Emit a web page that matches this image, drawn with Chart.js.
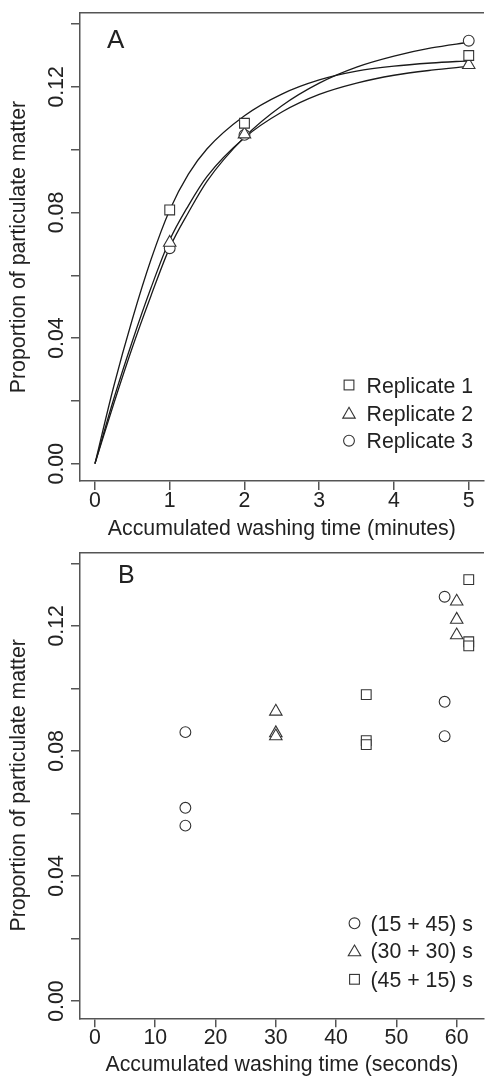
<!DOCTYPE html>
<html>
<head>
<meta charset="utf-8">
<script src="https://cdn.jsdelivr.net/npm/chart.js@4.4.1/dist/chart.umd.min.js"></script>
<style>
  html, body { margin: 0; padding: 0; background: #fff; }
  body { width: 488px; height: 1076px; overflow: hidden; position: relative; }
  canvas { position: absolute; left: 0; }
  #keys { position: absolute; left: 0; top: 0; pointer-events: none; }
</style>
</head>
<body>
<canvas id="chartA" width="492" height="544" style="top:0"></canvas>
<canvas id="chartB" width="492" height="536" style="top:544px"></canvas>
<svg id="keys" width="488" height="1076"></svg>
<script>
// Panel A: replicates, accumulated washing time in minutes
const minutes = [1, 2, 5];
const rep1 = [0.0808, 0.1084, 0.1300];
const rep2 = [0.0704, 0.1049, 0.1270];
const rep3 = [0.0686, 0.1047, 0.1347];

// fitted curves, values
const fitTimes = [0, 0.25, 0.5, 0.75, 1, 1.25, 1.5, 2, 2.5, 3, 3.5, 4, 4.5, 5];
const fit1 = [0, 0.0245, 0.0460, 0.0650, 0.0808, 0.0922, 0.1003, 0.1108, 0.1177, 0.1222, 0.1250, 0.1266, 0.1276, 0.1283];
const fit2 = [0, 0.0205, 0.0390, 0.0560, 0.0712, 0.0822, 0.0915, 0.1038, 0.1120, 0.1176, 0.1212, 0.1237, 0.1253, 0.1265];
const fit3 = [0, 0.0190, 0.0370, 0.0535, 0.0688, 0.0800, 0.0900, 0.1040, 0.1140, 0.1212, 0.1263, 0.1298, 0.1324, 0.1342];

// Panel B: split washes, accumulated washing time in seconds
const secs15 = [15, 15, 15, 58, 58, 58];
const split15 = [0.0860, 0.0618, 0.0561, 0.1293, 0.0957, 0.0847];
const secs30 = [30, 30, 30, 60, 60, 60];
const split30 = [0.0926, 0.0857, 0.0847, 0.1278, 0.1220, 0.1170];
const secs45 = [45, 45, 45, 62, 62, 62];
const split45 = [0.0980, 0.0833, 0.0820, 0.1348, 0.1149, 0.1136];

const yLabelled = [0, 0.04, 0.08, 0.12];
const keyA = ["Replicate 1", "Replicate 2", "Replicate 3"];
const keyB = ["(15 + 45) s", "(30 + 30) s", "(45 + 15) s"];

const INK = "#222";
const AXIS = "#555";
const FONT = '"Liberation Sans", Arial, Helvetica, sans-serif';
const SIZE = 21.3;

Chart.defaults.font.family = FONT;
Chart.defaults.font.size = SIZE;
Chart.defaults.color = INK;

const pts = (xs, ys) => xs.map((x, i) => ({ x, y: ys[i] }));

function marks(data, style, r) {
  return {
    data, showLine: false, pointStyle: style, pointRadius: r, pointHoverRadius: r,
    pointBorderColor: "#333", pointBackgroundColor: "#fff", pointBorderWidth: 1.1,
  };
}

function curve(data) {
  return {
    data, showLine: true, borderColor: "#1a1a1a", borderWidth: 1.3,
    pointRadius: 0, fill: false, cubicInterpolationMode: "monotone",
  };
}

function scales(xMin, xMax, xStep, xTitle, xHeight, titlePad) {
  return {
    x: {
      type: "linear", position: "bottom", min: xMin, max: xMax,
      ticks: { stepSize: xStep, includeBounds: false, padding: -2, maxRotation: 0, autoSkip: false },
      grid: { drawOnChartArea: false, tickLength: 9, color: AXIS, lineWidth: 1.5 },
      border: { color: AXIS, width: 1.5 },
      title: { display: true, text: xTitle, padding: { top: 0, bottom: titlePad } },
      afterFit: s => { s.height = xHeight; },
    },
    x2: {
      type: "linear", position: "top", min: xMin, max: xMax,
      ticks: { display: false },
      grid: { drawOnChartArea: false, drawTicks: false, color: AXIS },
      border: { color: AXIS, width: 1.5 },
      afterFit: s => { s.height = 0; },
    },
    y: {
      type: "linear", position: "left", min: -0.00552, max: 0.14352,
      ticks: {
        stepSize: 0.02, includeBounds: false, minRotation: 90, maxRotation: 90,
        crossAlign: "center", padding: -6.5,
        callback: v => yLabelled.some(t => Math.abs(t - v) < 1e-6) ? v.toFixed(2) : "",
      },
      grid: { drawOnChartArea: false, tickLength: 9, color: AXIS, lineWidth: 1.5 },
      border: { color: AXIS, width: 1.5 },
      title: { display: true, text: "Proportion of particulate matter", padding: { top: 6, bottom: 0 } },
      afterFit: s => { s.width = 80; },
    },
  };
}

function common(padTop) {
  return {
    responsive: false, animation: false, devicePixelRatio: 1,
    layout: { padding: { top: padTop, right: 2.8, left: 0, bottom: 0 } },
    plugins: { legend: { display: false }, tooltip: { enabled: false } },
  };
}

new Chart(document.getElementById("chartA"), {
  type: "scatter",
  data: {
    datasets: [
      marks(pts(minutes, rep1), "rect", 6.9),
      marks(pts(minutes, rep2), "triangle", 7.2),
      marks(pts(minutes, rep3), "circle", 5.4),
      curve(pts(fitTimes, fit1)),
      curve(pts(fitTimes, fit2)),
      curve(pts(fitTimes, fit3)),
    ],
  },
  options: Object.assign(common(13), {
    scales: scales(-0.2, 5.2, 1, "Accumulated washing time (minutes)", 63, 1.8),
  }),
});

new Chart(document.getElementById("chartB"), {
  type: "scatter",
  data: {
    datasets: [
      marks(pts(secs45, split45), "rect", 6.9),
      marks(pts(secs30, split30), "triangle", 7.2),
      marks(pts(secs15, split15), "circle", 5.4),
    ],
  },
  options: Object.assign(common(5), {
    scales: scales(-2.48, 64.48, 10, "Accumulated washing time (seconds)", 61.7, 2.3),
  }),
});

// legends and panel letters
function symbol(style, cx, cy, r) {
  const s = 'fill="#fff" stroke="#333" stroke-width="1.1"';
  if (style === "rect") {
    const h = r * Math.SQRT1_2;
    return `<rect x="${cx - h}" y="${cy - h}" width="${2 * h}" height="${2 * h}" ${s}/>`;
  }
  if (style === "triangle") {
    const w = r * 0.866;
    return `<polygon points="${cx},${cy - r} ${cx + w},${cy + r / 2} ${cx - w},${cy + r / 2}" ${s}/>`;
  }
  return `<circle cx="${cx}" cy="${cy}" r="${r}" ${s}/>`;
}

function key(labels, styles, sx, tx, rows) {
  let out = "";
  labels.forEach((lab, i) => {
    const cy = rows[i];
    const r = styles[i] === "rect" ? 6.9 : styles[i] === "triangle" ? 7.2 : 5.4;
    out += symbol(styles[i], sx, styles[i] === "triangle" ? cy + 1.5 : cy, r);
    out += `<text x="${tx}" y="${cy + 7.6}" font-family='${FONT}' font-size="${SIZE}" fill="${INK}">${lab}</text>`;
  });
  return out;
}

document.getElementById("keys").innerHTML =
  key(keyA, ["rect", "triangle", "circle"], 349, 366.5, [385, 413, 440.7]) +
  key(keyB, ["circle", "triangle", "rect"], 354.5, 370.5, [923.3, 950.7, 979.3]) +
  `<text x="107" y="47.5" font-family='${FONT}' font-size="26" fill="${INK}">A</text>` +
  `<text x="118" y="583" font-family='${FONT}' font-size="25" fill="${INK}">B</text>`;
</script>
</body>
</html>
